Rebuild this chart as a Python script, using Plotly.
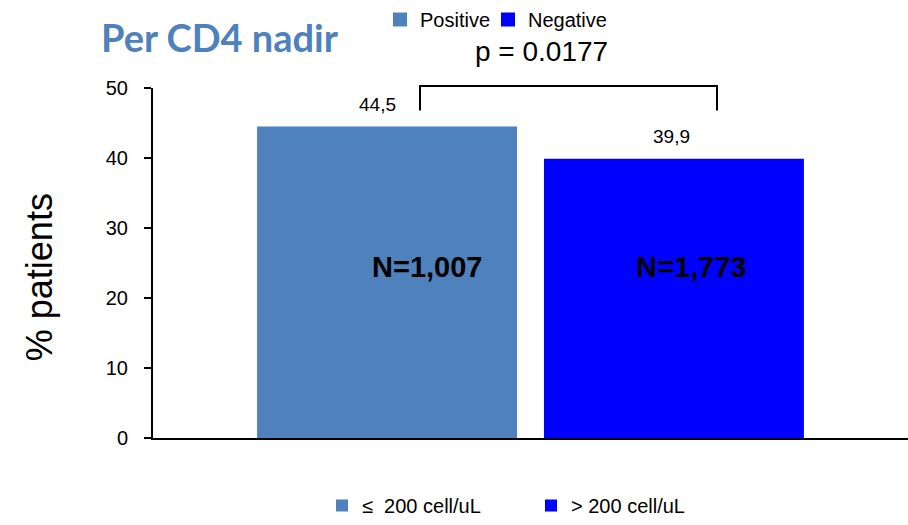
import plotly.graph_objects as go

categories = ["CD4 nadir"]
group_names = ["≤\u00a0\u00a0200 cell/uL", "> 200 cell/uL"]
top_legend_names = ["Positive", "Negative"]
values = [44.5, 39.9]
value_labels = ["44,5", "39,9"]
n_labels = ["N=1,007", "N=1,773"]
colors = ["#4F81BD", "#0000FF"]
p_text = "p = 0.0177"
y_ticks = [0, 10, 20, 30, 40, 50]

W, H = 908, 525
L, R, T, B = 153, 0, 87, 81
plot_w = W - L - R
plot_h = H - T - B

fig = go.Figure()
for i, (name, v, c) in enumerate(zip(group_names, values, colors)):
    fig.add_trace(go.Bar(
        x=[0], y=[v], name=name, marker=dict(color=c, line=dict(width=0)),
        legend="legend2", hoverinfo="y",
    ))

top_legends = ["legend", "legend3"]
for name, c, lg in zip(top_legend_names, colors, top_legends):
    fig.add_trace(go.Scatter(
        x=[None], y=[None], mode="markers", name=name,
        marker=dict(symbol="square", size=14, color=c), legend=lg,
    ))

group_w = 0.76
slot = group_w / 2
for i, (lab, v, vl) in enumerate(zip(n_labels, values, value_labels)):
    xc = -group_w / 2 + slot * (i + 0.5)
    fig.add_annotation(x=xc - (0.013 if i == 0 else 0.003), y=v, xref="x", yref="y",
                       text=vl, showarrow=False, yshift=22,
                       font=dict(size=19, color="black", family="Liberation Sans"))
    fig.add_annotation(x=xc + (0.053 if i == 0 else 0.023), y=24.4, xref="x", yref="y",
                       text=f"<b>{lab}</b>", showarrow=False,
                       font=dict(size=29, color="black", family="Liberation Sans"))

# significance bracket
x0p = (420 - L) / plot_w
x1p = (717 - L) / plot_w
ytop = (H - B - 85) / plot_h
ybot = (H - B - 110) / plot_h
fig.add_shape(type="path", xref="paper", yref="paper",
              path=f"M {x0p} {ybot} L {x0p} {ytop} L {x1p} {ytop} L {x1p} {ybot}",
              line=dict(color="black", width=2))
fig.add_annotation(x=(541 - L) / plot_w, y=(H - B - 50) / plot_h, xref="paper", yref="paper",
                   text=p_text, showarrow=False, yanchor="middle",
                   font=dict(size=28, color="black", family="Liberation Sans"))

# title
fig.add_annotation(x=(99 - L) / plot_w, y=(H - B - 35) / plot_h, xref="paper", yref="paper",
                   text="<b>Per CD4 nadir</b>", showarrow=False, xanchor="left", yanchor="middle",
                   font=dict(size=38, color="#4F81BD", family="Lato"))

# y axis title
fig.add_annotation(x=(39 - L) / plot_w, y=(H - B - 280) / plot_h, xref="paper", yref="paper",
                   text="% patients", showarrow=False, textangle=-90, xanchor="center", yanchor="middle",
                   font=dict(size=36, color="black", family="Liberation Sans"))

legend_font = dict(size=20, color="black", family="Liberation Sans")
fig.update_layout(
    width=W, height=H,
    margin=dict(l=L, r=R, t=T, b=B),
    paper_bgcolor="white", plot_bgcolor="white",
    barmode="group", bargap=0.24, bargroupgap=0.094,
    separators=",.",
    showlegend=True,
    legend=dict(orientation="h", x=(380 - L) / plot_w, xanchor="left",
                y=(H - B - 17) / plot_h, yanchor="middle", font=legend_font,
                bgcolor="rgba(0,0,0,0)", borderwidth=0),
    legend3=dict(orientation="h", x=(488 - L) / plot_w, xanchor="left",
                 y=(H - B - 17) / plot_h, yanchor="middle", font=legend_font,
                 bgcolor="rgba(0,0,0,0)", borderwidth=0),
    legend2=dict(orientation="h", x=(322 - L) / plot_w, xanchor="left",
                 y=(H - B - 513) / plot_h, yanchor="middle", font=legend_font,
                 entrywidth=164, entrywidthmode="pixels",
                 bgcolor="rgba(0,0,0,0)", borderwidth=0),
    xaxis=dict(range=[-0.5, 0.5], showticklabels=False, showgrid=False, zeroline=False,
               showline=True, linecolor="black", linewidth=2, ticks="", fixedrange=True),
    yaxis=dict(range=[0, 50], tickvals=y_ticks, showgrid=False, zeroline=False,
               showline=True, linecolor="black", linewidth=2, ticks="outside", ticklen=7,
               tickwidth=1.5, tickcolor="black", ticklabelstandoff=12,
               tickfont=dict(size=20, color="black", family="Liberation Sans")),
)

fig.write_html("out.html")
